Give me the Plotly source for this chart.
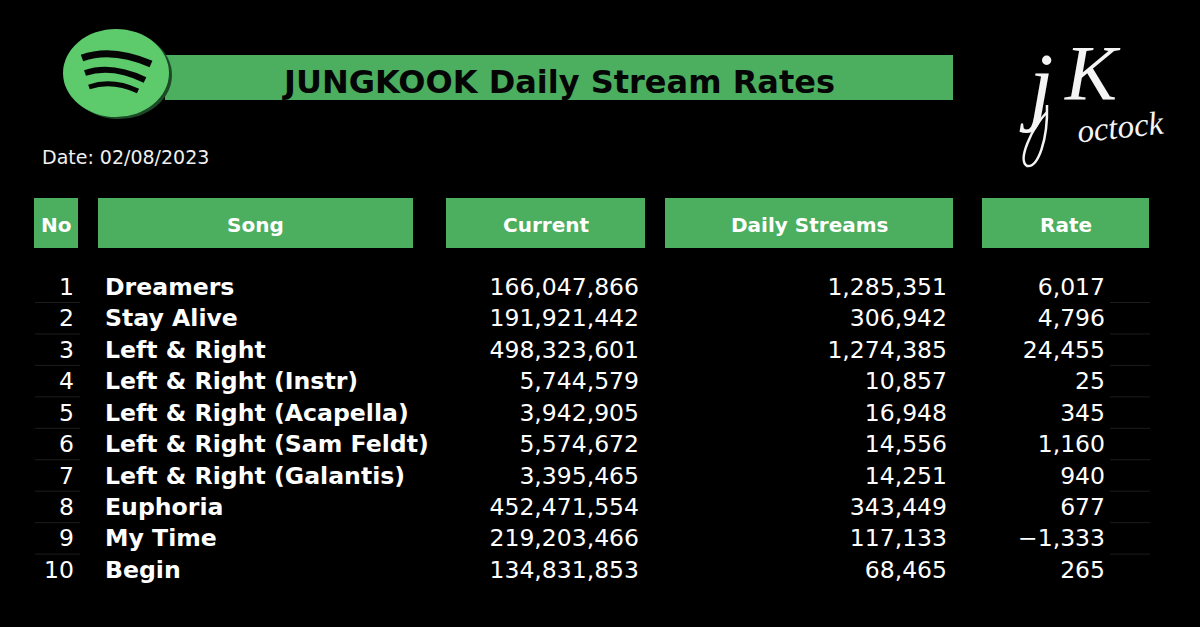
import plotly.graph_objects as go

# table data
headers = ["No", "Song", "Current", "Daily Streams", "Rate"]
numbers = [1, 2, 3, 4, 5, 6, 7, 8, 9, 10]
songs = ["Dreamers", "Stay Alive", "Left & Right", "Left & Right (Instr)",
         "Left & Right (Acapella)", "Left & Right (Sam Feldt)",
         "Left & Right (Galantis)", "Euphoria", "My Time", "Begin"]
current = [166047866, 191921442, 498323601, 5744579, 3942905,
           5574672, 3395465, 452471554, 219203466, 134831853]
daily = [1285351, 306942, 1274385, 10857, 16948,
         14556, 14251, 343449, 117133, 68465]
rate = [6017, 4796, 24455, 25, 345, 1160, 940, 677, -1333, 265]

GREEN = "#4cae5f"
LOGO = "#5dca6c"
FONT = "DejaVu Sans"

# left/right pixel edges of the header boxes
header_x = [(34, 78), (98, 413), (446, 645), (665, 953), (982, 1149)]
rows = [289 + 31.45 * i for i in range(len(numbers))]


def fmt(values):
    return [f"{v:,}".replace("-", "\u2212") for v in values]


def column(x, texts, pos, size=23.5, weight=400):
    return go.Scatter(
        x=[x] * len(texts), y=rows, text=texts, mode="text", textposition=pos,
        textfont=dict(family=FONT, size=size, color="#ffffff", weight=weight),
        hoverinfo="skip", showlegend=False,
    )


def arc(x0, y0, cx, cy, x1, y1, thick):
    return dict(
        type="path", fillcolor="#050505", line=dict(color="#050505", width=thick),
        path=f"M {x0} {y0} Q {cx} {cy} {x1} {y1} Q {cx} {cy} {x0} {y0} Z",
    )


fig = go.Figure()

fig.add_trace(column(74, [str(n) for n in numbers], "middle left"))
fig.add_trace(column(105, songs, "middle right", 23.6, 700))
fig.add_trace(column(639, fmt(current), "middle left"))
fig.add_trace(column(947, fmt(daily), "middle left"))
fig.add_trace(column(1105, fmt(rate), "middle left"))

shapes = [
    # title bar and logo
    dict(type="rect", x0=165, x1=953, y0=55, y1=100, fillcolor=GREEN, line_width=0),
    dict(type="circle", x0=66, x1=172, y0=31, y1=119, fillcolor="#1c4a26", line_width=0),
    dict(type="circle", x0=63, x1=169, y0=29, y1=117, fillcolor=LOGO, line_width=0),
    arc(82, 58, 112, 47, 151, 64, 7),
    arc(85, 73, 112, 64, 145, 80, 6),
    arc(89, 87, 112, 79, 138, 91, 5),
    # swash of the signature
    dict(type="path", line=dict(color="#f4f4f4", width=2.5),
         path="M 1047 105 C 1048 140 1038 168 1027 166 C 1017 160 1032 128 1047 112"),
]
for x0, x1 in header_x:
    shapes.append(dict(type="rect", x0=x0, x1=x1, y0=198, y1=248, fillcolor=GREEN, line_width=0))
# faint rules left over from the table
for y in rows[:-1]:
    y_line = y + 13.5
    shapes.append(dict(type="line", x0=35, x1=80, y0=y_line, y1=y_line, line=dict(color="#1c1c1c", width=1)))
    shapes.append(dict(type="line", x0=1110, x1=1150, y0=y_line, y1=y_line, line=dict(color="#1c1c1c", width=1)))

annotations = [
    dict(x=558, y=82, text="<b>JUNGKOOK Daily Stream Rates</b>", showarrow=False,
         font=dict(family=FONT, size=32, color="#050505")),
    dict(x=40, y=157, text="Date: 02/08/2023", showarrow=False, xanchor="left",
         font=dict(family=FONT, size=19, color="#f0f0f0")),
    dict(x=1036, y=84, text="<i>j</i>", showarrow=False,
         font=dict(family="Liberation Serif", size=88, color="#f4f4f4")),
    dict(x=1092, y=72, text="<i>K</i>", showarrow=False,
         font=dict(family="Liberation Serif", size=78, color="#f4f4f4")),
    dict(x=1120, y=127, text="<i>octock</i>", showarrow=False, textangle=-6,
         font=dict(family="Liberation Serif", size=33, color="#f4f4f4")),
]
for name, (x0, x1) in zip(headers, header_x):
    annotations.append(dict(x=(x0 + x1) / 2, y=225, text=f"<b>{name}</b>", showarrow=False,
                            font=dict(family=FONT, size=20, color="#ffffff")))

fig.update_layout(
    width=1200, height=627, margin=dict(l=0, r=0, t=0, b=0),
    paper_bgcolor="#000000", plot_bgcolor="#000000",
    xaxis=dict(range=[0, 1200], visible=False, fixedrange=True),
    yaxis=dict(range=[627, 0], visible=False, fixedrange=True),
    shapes=shapes, annotations=annotations, showlegend=False,
)

fig.write_html(
    "out.html",
    config=dict(displayModeBar=False),
    post_script="document.body.style.margin='0';document.body.style.background='#000';",
)
